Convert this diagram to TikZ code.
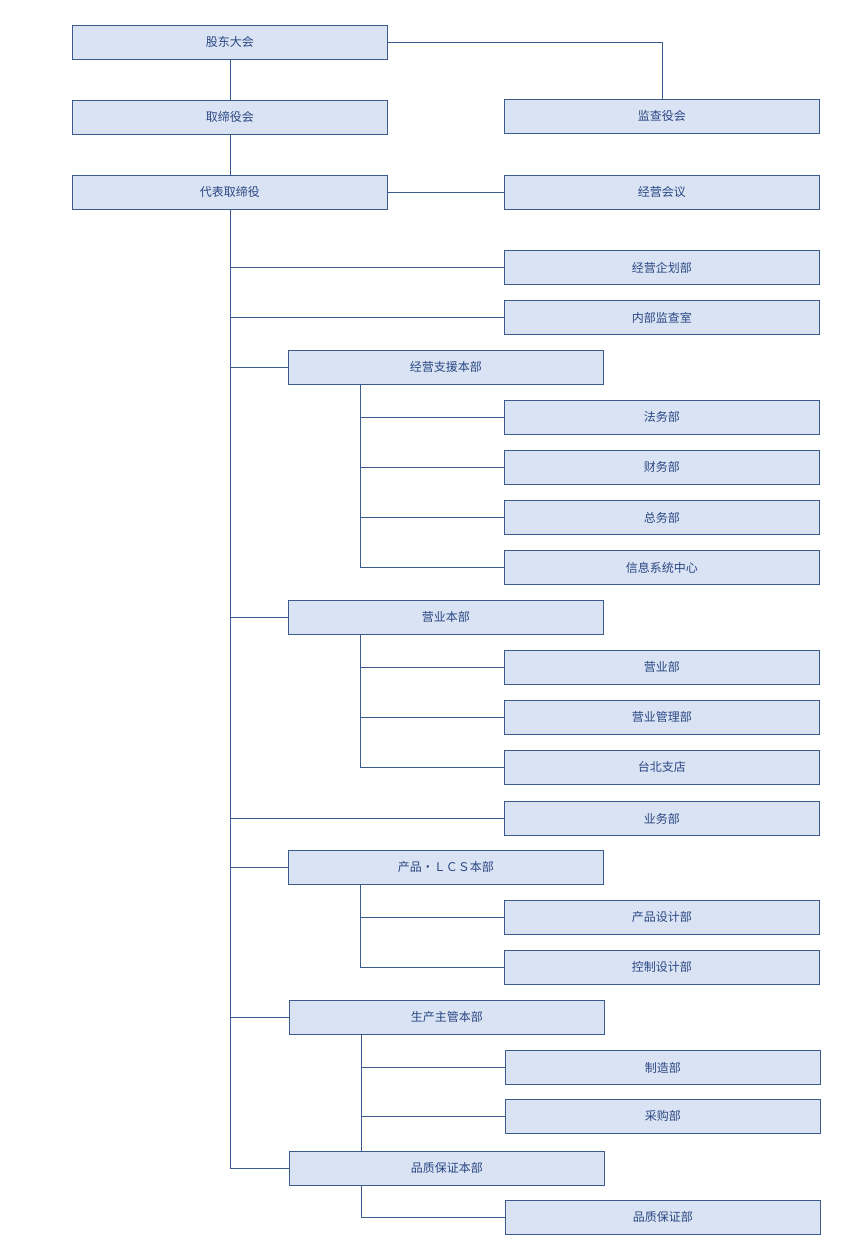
\documentclass[tikz,border=0pt]{standalone}
\usepackage{fontspec}
\setmainfont{Noto Sans CJK SC}
\definecolor{bfill}{HTML}{DAE3F3}
\definecolor{bline}{HTML}{3B5A8E}
\definecolor{btext}{HTML}{2A4784}
\begin{document}
\begin{tikzpicture}[x=1pt,y=-1pt,
 box/.style={draw=bline,fill=bfill,text=btext,line width=0.8pt,minimum width=315pt,minimum height=34pt,anchor=north west,inner sep=0pt,font=\fontsize{12}{14}\selectfont},
 conn/.style={draw=bline,line width=0.8pt}]
\useasboundingbox (0,0) rectangle (865,1251);
\node[box] (gm) at (72,25) {股东大会};
\node[box] (bd) at (72,100) {取缔役会};
\node[box] (au) at (504,99) {监查役会};
\node[box] (rep) at (72,175) {代表取缔役};
\node[box] (mm) at (504,175) {经营会议};
\node[box] (pl) at (504,250) {经营企划部};
\node[box] (ia) at (504,300) {内部监查室};
\node[box] (sup) at (288,350) {经营支援本部};
\node[box] (lg) at (504,400) {法务部};
\node[box] (fi) at (504,450) {财务部};
\node[box] (ga) at (504,500) {总务部};
\node[box] (is) at (504,550) {信息系统中心};
\node[box] (sl) at (288,600) {营业本部};
\node[box] (s1) at (504,650) {营业部};
\node[box] (s2) at (504,700) {营业管理部};
\node[box] (s3) at (504,750) {台北支店};
\node[box] (bz) at (504,801) {业务部};
\node[box] (pr) at (288,850) {产品・ＬＣＳ本部};
\node[box] (p1) at (504,900) {产品设计部};
\node[box] (p2) at (504,950) {控制设计部};
\node[box] (pd) at (289,1000) {生产主管本部};
\node[box] (d1) at (505,1050) {制造部};
\node[box] (d2) at (505,1099) {采购部};
\node[box] (qa) at (289,1151) {品质保证本部};
\node[box] (q1) at (505,1200) {品质保证部};
\draw[conn] (gm.south) -- (bd.north);
\draw[conn] (bd.south) -- (rep.north);
\draw[conn] (gm.east) -| (au.north);
\draw[conn] (rep.east) -- (mm.west);
\draw[conn] (rep.south) |- (qa.west);
\foreach \n in {pl,ia,sup,sl,bz,pr,pd}
  \draw[conn] (rep.south |- \n.west) -- (\n.west);
\foreach \n in {lg,fi,ga,is} \draw[conn] ([xshift=-85.5pt]sup.south) |- (\n.west);
\foreach \n in {s1,s2,s3} \draw[conn] ([xshift=-85.5pt]sl.south) |- (\n.west);
\foreach \n in {p1,p2} \draw[conn] ([xshift=-85.5pt]pr.south) |- (\n.west);
\draw[conn] ([xshift=-85.5pt]pd.south) -- ([xshift=-85.5pt]qa.north);
\foreach \n in {d1,d2} \draw[conn] ([xshift=-85.5pt]pd.south) |- (\n.west);
\draw[conn] ([xshift=-85.5pt]qa.south) |- (q1.west);
\end{tikzpicture}
\end{document}
